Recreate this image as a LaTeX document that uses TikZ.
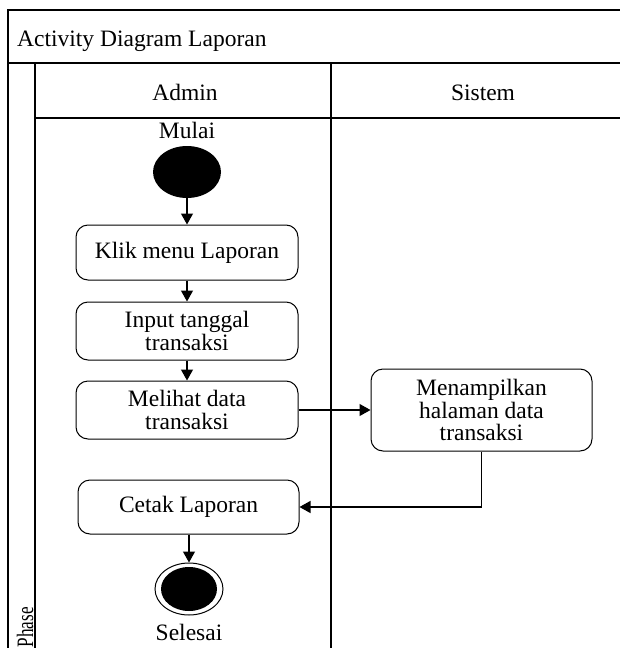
\documentclass[tikz,border=0pt]{standalone}
\usepackage{fontspec}
\setmainfont{Liberation Serif}
\usetikzlibrary{arrows.meta,shapes.geometric}
\begin{document}
\begin{tikzpicture}[x=1pt,y=-1pt,
  frame/.style={line width=1.4pt},
  txt/.style={font=\fontsize{23.5}{23}\selectfont, inner sep=0pt},
  act/.style={draw, rounded corners=12pt, line width=1pt, align=center,
    inner sep=0pt, font=\fontsize{23.5}{22.5}\selectfont},
  flow/.style={line width=1.2pt, -{Triangle[length=11pt,width=12pt]}}]
\useasboundingbox (0,0) rectangle (620,648);
\begin{scope}
\clip (0,0) rectangle (620,648);
% swimlane frame
\draw[frame] (8,670) -- (8,10) -- (640,10);
\draw[frame] (8,63) -- (640,63);
\draw[frame] (35,63) -- (35,670);
\draw[frame] (35,118) -- (640,118);
\draw[frame] (331,63) -- (331,670);
\draw[frame] (635,10) -- (635,670);
\end{scope}
% headings
\node[txt, anchor=base west] (title) at (17,46) {Activity Diagram Laporan};
\node[txt, anchor=base] (admin) at (185,100) {Admin};
\node[txt, anchor=base] (sistem) at (483,100) {Sistem};
\node[txt, anchor=base east, rotate=90] (phase) at (33,607) {\scalebox{0.73}[1]{Phase}};
% start node
\node[txt, anchor=base] (mulai) at (187,138) {Mulai};
\node[ellipse, fill=black, minimum width=68pt, minimum height=52pt, inner sep=0pt] (start) at (187,172) {};
% activities
\node[act, minimum width=222pt, minimum height=55pt] (klik) at (187,252.5) {Klik menu Laporan};
\node[act, minimum width=222pt, minimum height=58pt] (input) at (187,331) {Input tanggal\\transaksi};
\node[act, minimum width=222pt, minimum height=58pt] (lihat) at (187,410) {Melihat data\\transaksi};
\node[act, minimum width=221pt, minimum height=82pt] (tampil) at (481.5,410) {Menampilkan\\halaman data\\transaksi};
\node[act, minimum width=221pt, minimum height=54pt] (cetak) at (188.5,507) {Cetak Laporan};
% end node
\node[ellipse, draw, line width=1pt, minimum width=68pt, minimum height=52pt, inner sep=0pt] (end) at (189,589) {};
\node[ellipse, fill=black, minimum width=56pt, minimum height=44pt, inner sep=0pt] (endin) at (end.center) {};
\node[txt, anchor=base] (selesai) at (189,640) {Selesai};
% control flow
\draw[flow] (start.south) -- (klik.north -| start.south);
\draw[flow] (klik.south) -- (input.north);
\draw[flow] (input.south) -- (lihat.north);
\draw[flow] (lihat.east) -- (tampil.west |- lihat.east);
\draw[flow] (tampil.south) |- (cetak.east);
\draw[flow] (cetak.south -| end.north) -- (end.north);
\end{tikzpicture}
\end{document}
